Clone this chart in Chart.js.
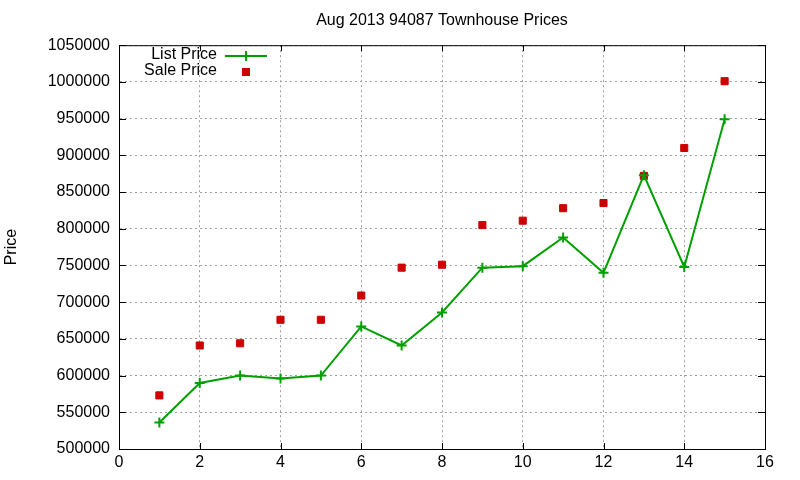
<!DOCTYPE html>
<html>
<head>
<meta charset="utf-8">
<script src="https://cdn.jsdelivr.net/npm/chart.js@4"></script>
<style>
  html, body { margin: 0; padding: 0; background: #fff; }
</style>
</head>
<body>
<canvas id="priceChart" width="800" height="480"></canvas>
<script>
const houseNumbers = [1, 2, 3, 4, 5, 6, 7, 8, 9, 10, 11, 12, 13, 14, 15];
const listPrices = [536000, 590000, 600000, 596000, 600000, 667000, 641000, 686000, 747000, 749000, 788000, 740000, 873000, 748000, 949000];
const salePrices = [573000, 641000, 644000, 676000, 676000, 709000, 747000, 751000, 805000, 811000, 828000, 835000, 872000, 910000, 1001000];
const xTicks = [0, 2, 4, 6, 8, 10, 12, 14, 16];
const yTicks = [500000, 550000, 600000, 650000, 700000, 750000, 800000, 850000, 900000, 950000, 1000000, 1050000];

const FONT = 'Liberation Sans, Arial, sans-serif';
const GREEN = '#00a000';
const RED = '#cc0000';

// gnuplot style: frame on all four sides with inward ticks, plus key inside the plot
const framePlugin = {
    id: 'frame',
    afterDraw(chart) {
        const { ctx, chartArea: a, scales } = chart;
        ctx.save();
        ctx.strokeStyle = '#000';
        ctx.lineWidth = 1;
        ctx.strokeRect(a.left + 0.5, a.top + 0.5, a.right - a.left, a.bottom - a.top);
        ctx.beginPath();
        xTicks.forEach(v => {
            const x = Math.round(scales.x.getPixelForValue(v)) + 0.5;
            ctx.moveTo(x, a.bottom); ctx.lineTo(x, a.bottom - 6);
            ctx.moveTo(x, a.top); ctx.lineTo(x, a.top + 6);
        });
        yTicks.forEach(v => {
            const y = Math.round(scales.y.getPixelForValue(v)) + 0.5;
            ctx.moveTo(a.left, y); ctx.lineTo(a.left + 7, y);
            ctx.moveTo(a.right, y); ctx.lineTo(a.right - 7, y);
        });
        ctx.stroke();

        // key
        ctx.font = '16px ' + FONT;
        ctx.fillStyle = '#000';
        ctx.textAlign = 'right';
        ctx.textBaseline = 'middle';
        ctx.fillText('List Price', 217, 55);
        ctx.fillText('Sale Price', 217, 71);
        ctx.strokeStyle = GREEN;
        ctx.lineWidth = 2;
        ctx.beginPath();
        ctx.moveTo(225, 56); ctx.lineTo(267, 56);
        ctx.moveTo(246, 51); ctx.lineTo(246, 61);
        ctx.stroke();
        ctx.fillStyle = RED;
        ctx.fillRect(242, 68, 8, 8);
        ctx.restore();
    }
};

new Chart(document.getElementById('priceChart'), {
    type: 'line',
    data: {
        datasets: [
            {
                label: 'List Price',
                data: houseNumbers.map((n, i) => ({ x: n, y: listPrices[i] })),
                borderColor: GREEN,
                backgroundColor: GREEN,
                borderWidth: 2,
                pointStyle: 'cross',
                pointRadius: 5,
                pointBorderWidth: 2,
                tension: 0
            },
            {
                label: 'Sale Price',
                data: houseNumbers.map((n, i) => ({ x: n, y: salePrices[i] })),
                showLine: false,
                borderColor: RED,
                backgroundColor: RED,
                pointStyle: 'rect',
                pointRadius: 5,
                pointBorderWidth: 1
            }
        ]
    },
    options: {
        responsive: false,
        animation: false,
        layout: { padding: { left: 0, right: 35, top: 0, bottom: 0 } },
        plugins: {
            legend: { display: false },
            tooltip: { enabled: false },
            title: {
                display: true,
                text: 'Aug 2013 94087 Townhouse Prices',
                fullSize: false,
                color: '#000',
                font: { family: FONT, size: 16, weight: 'normal', lineHeight: 1.2 },
                padding: { top: 11, bottom: 15 }
            }
        },
        scales: {
            x: {
                type: 'linear',
                min: 0,
                max: 16,
                afterFit: s => { s.height = 31; },
                afterBuildTicks: s => { s.ticks = xTicks.map(v => ({ value: v })); },
                ticks: { color: '#000', padding: 4, font: { family: FONT, size: 16 }, callback: v => v },
                grid: { color: '#a0a0a0', lineWidth: 1, drawTicks: false },
                border: { color: '#000', width: 1, dash: [2, 3] }
            },
            y: {
                type: 'linear',
                min: 500000,
                max: 1050000,
                afterFit: s => { s.width = 119; },
                afterBuildTicks: s => { s.ticks = yTicks.map(v => ({ value: v })); },
                ticks: { color: '#000', padding: 9, font: { family: FONT, size: 16 }, callback: v => v },
                grid: { color: '#a0a0a0', lineWidth: 1, drawTicks: false },
                border: { color: '#000', width: 1, dash: [2, 3] },
                title: {
                    display: true,
                    text: 'Price',
                    color: '#000',
                    font: { family: FONT, size: 16 },
                    padding: { top: 2, bottom: 0 }
                }
            }
        }
    },
    plugins: [framePlugin]
});
</script>
</body>
</html>
